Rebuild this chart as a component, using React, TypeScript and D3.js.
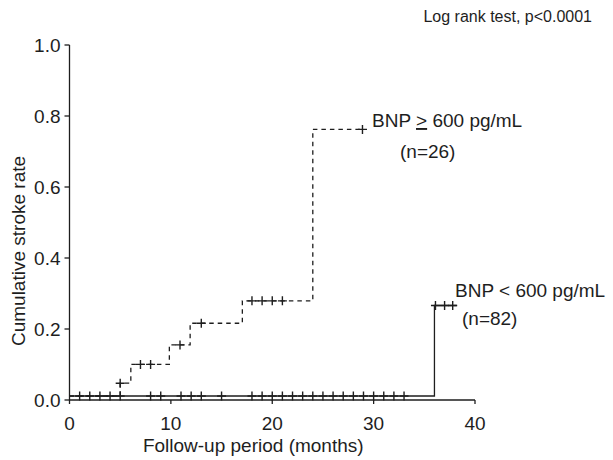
import React from "react";
import * as d3 from "d3";

// High BNP group (>= 600 pg/mL), dashed
const highTimes = [0, 5, 6.05, 9.85, 11.9, 17.05, 24, 29];
const highRates = [0, 0.036, 0.089, 0.144, 0.205, 0.268, 0.751, 0.751];
const highCensorTimes = [5, 7, 8, 10.9, 13, 18, 19, 20, 21, 28.9];
const highCensorRates = [0.036, 0.089, 0.089, 0.144, 0.205, 0.268, 0.268, 0.268, 0.268, 0.751];

// Low BNP group (< 600 pg/mL), solid
const lowTimes = [0, 36, 38.2];
const lowRates = [0, 0.255, 0.255];
const lowCensorTimes = [1, 2, 3, 4, 5, 8, 9, 11, 12, 13, 15, 18, 19, 20, 21, 22, 23, 24, 25, 26, 27, 28, 29, 30, 31, 32, 33, 36.1, 37, 37.8];
const lowCensorRates = [0, 0, 0, 0, 0, 0, 0, 0, 0, 0, 0, 0, 0, 0, 0, 0, 0, 0, 0, 0, 0, 0, 0, 0, 0, 0, 0, 0.255, 0.255, 0.255];

const xTicks = [0, 10, 20, 30, 40];
const yTicks = [0, 0.2, 0.4, 0.6, 0.8, 1.0];

export default function App() {
  const W = 613, H = 460;
  const x = d3.scaleLinear().domain([0, 40]).range([69.5, 475]);
  const y = d3.scaleLinear().domain([0, 1]).range([400, 45]);
  const line = d3
    .line<[number, number]>()
    .x((d) => x(d[0]))
    .y((d) => y(d[1]))
    .curve(d3.curveStepAfter);
  const highPts = highTimes.map((t, i) => [t, highRates[i]] as [number, number]);
  const lowPts = lowTimes.map((t, i) => [t, lowRates[i]] as [number, number]);
  const col = "#1e1e1e";
  const font = "'Liberation Sans', Arial, sans-serif";
  const fs = 19;
  const cs = 4.5;
  const cross = (t: number, r: number, k: string) => (
    <path
      key={k}
      d={`M${x(t) - cs},${y(r)}H${x(t) + cs}M${x(t)},${y(r) - cs}V${y(r) + cs}`}
      stroke={col}
      strokeWidth={1.4}
      fill="none"
    />
  );
  return (
    <svg width={W} height={H} style={{ position: "absolute", left: 0, top: 0, background: "#fff" }} fontFamily={font}>
      <rect width={W} height={H} fill="#fff" />
      {/* axes */}
      <g stroke={col} strokeWidth={1.3} fill="none">
        <path d={`M${x(0)},${y(1)}V${y(0)}`} />
        <path d={`M${x(0)},${y(0)}H${x(40)}`} />
        {yTicks.map((t) => (
          <path key={"yt" + t} d={`M${x(0) - 5},${y(t)}H${x(0)}`} />
        ))}
        {xTicks.map((t) => (
          <path key={"xt" + t} d={`M${x(t)},${y(0)}V${y(0) + 4}`} />
        ))}
      </g>
      {yTicks.map((t) => (
        <text key={"yl" + t} x={x(0) - 9} y={y(t)} dy="0.36em" textAnchor="end" fontSize={fs} fill={col}>
          {t.toFixed(1)}
        </text>
      ))}
      {xTicks.map((t) => (
        <text key={"xl" + t} x={x(t)} y={430} textAnchor="middle" fontSize={fs} fill={col}>
          {t}
        </text>
      ))}
      <text x={(x(0) + x(40)) / 2 - 19} y={452} textAnchor="middle" fontSize={19} fill={col}>
        Follow-up period (months)
      </text>
      <text transform={`translate(25,251) rotate(-90)`} textAnchor="middle" fontSize={fs} fill={col}>
        Cumulative stroke rate
      </text>
      <text x={592} y={22} textAnchor="end" fontSize={16} fill={col}>
        Log rank test, p&lt;0.0001
      </text>
      {/* curves */}
      <g transform="translate(0,-4)">
        <path d={line(lowPts) || ""} stroke={col} strokeWidth={1.3} fill="none" />
        <path d={line(highPts) || ""} stroke={col} strokeWidth={1.3} fill="none" strokeDasharray="4.5,4" />
        {lowCensorTimes.map((t, i) => cross(t, lowCensorRates[i], "lc" + i))}
        {highCensorTimes.map((t, i) => cross(t, highCensorRates[i], "hc" + i))}
      </g>
      {/* labels */}
      <text x={372} y={127} fontSize={fs} fill={col}>
        BNP <tspan textDecoration="underline" style={{ textDecoration: "underline" }}>&gt;</tspan> 600 pg/mL
      </text>
      <text x={400} y={158} fontSize={fs} fill={col}>
        (n=26)
      </text>
      <text x={455} y={297} fontSize={fs} fill={col}>
        BNP &lt; 600 pg/mL
      </text>
      <text x={462} y={325} fontSize={fs} fill={col}>
        (n=82)
      </text>
    </svg>
  );
}
